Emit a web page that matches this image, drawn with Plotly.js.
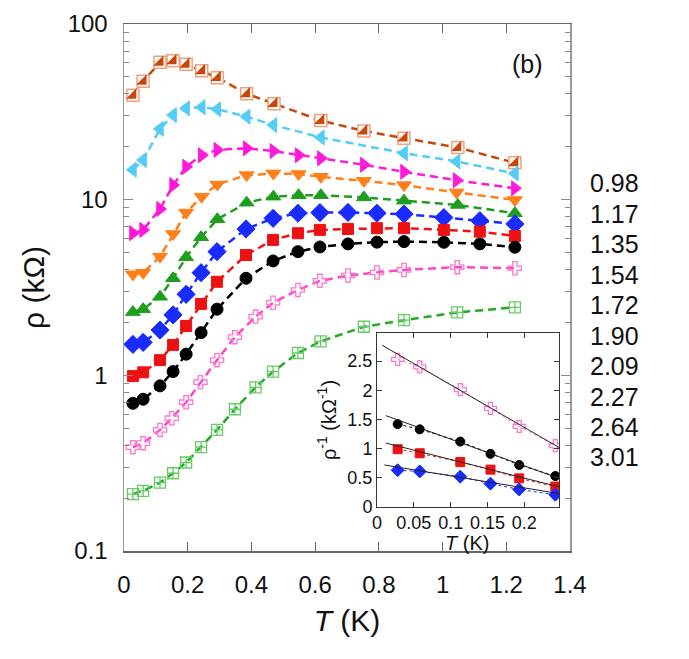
<!DOCTYPE html>
<html>
<head>
<meta charset="utf-8">
<script src="https://cdn.plot.ly/plotly-3.0.1.min.js"></script>
<style>html,body{margin:0;padding:0;background:#fff;}#chart{width:689px;height:659px;}</style>
</head>
<body>
<div id="chart"></div>
<script>
// ---- series labels (right side) ----
const seriesLabels = ['0.98','1.17','1.35','1.54','1.72','1.90','2.09','2.27','2.64','3.01'];

// ---- main panel data: T (K) and rho (kOhm) ----
const T_098 = [0.028,0.06,0.113,0.154,0.195,0.244,0.293,0.385,0.471,0.618,0.753,0.879,1.048,1.227];
const R_098 = [39.3,47.2,60.5,61.8,59.0,54.2,49.5,40.1,35.2,28.2,24.6,22.4,19.8,16.2];

const T_117 = [0.028,0.06,0.113,0.154,0.195,0.244,0.293,0.385,0.469,0.618,0.879,1.044,1.227];
const R_117 = [14.8,16.8,25.3,30.3,33.1,33.6,32.7,29.7,26.6,22.6,18.4,16.5,14.1];

const T_135 = [0.028,0.06,0.113,0.154,0.195,0.244,0.293,0.385,0.469,0.548,0.618,0.753,0.879,1.044,1.227];
const R_135 = [6.44,6.73,8.85,12.1,15.4,17.9,19.2,19.6,18.9,17.9,17.2,15.8,14.4,12.9,11.6];

const T_154 = [0.028,0.06,0.113,0.154,0.195,0.244,0.293,0.385,0.469,0.548,0.618,0.753,0.879,1.044,1.227];
const R_154 = [3.76,3.84,4.74,6.38,8.44,10.4,12.2,13.8,14.1,14.0,13.5,12.8,12.1,11.0,9.96];

const T_172 = [0.028,0.06,0.113,0.154,0.195,0.242,0.293,0.385,0.469,0.548,0.618,0.753,0.879,1.048,1.227];
const R_172 = [2.29,2.38,2.80,3.57,4.70,6.11,7.73,9.61,10.4,10.6,10.6,10.3,9.87,9.33,8.37];

const T_190 = [0.028,0.06,0.113,0.154,0.195,0.242,0.292,0.383,0.468,0.546,0.615,0.703,0.794,0.879,1.004,1.117,1.227];
const R_190 = [1.50,1.54,1.81,2.21,2.89,3.84,5.06,6.81,7.83,8.37,8.44,8.46,8.37,8.28,7.91,7.59,7.27];

const T_209 = [0.028,0.06,0.113,0.154,0.195,0.242,0.292,0.383,0.468,0.546,0.615,0.703,0.794,0.879,1.004,1.117,1.227];
const R_209 = [0.99,1.04,1.22,1.49,1.91,2.55,3.41,4.84,5.90,6.44,6.73,6.81,6.88,6.88,6.73,6.58,6.21];

const T_227 = [0.028,0.06,0.113,0.154,0.195,0.242,0.292,0.383,0.468,0.546,0.615,0.703,0.794,0.879,1.004,1.117,1.227];
const R_227 = [0.693,0.731,0.871,1.05,1.32,1.75,2.38,3.57,4.48,5.06,5.38,5.60,5.73,5.77,5.72,5.60,5.36];

const T_264 = [0.028,0.06,0.113,0.15,0.195,0.24,0.292,0.348,0.413,0.468,0.546,0.615,0.703,0.794,0.879,1.046,1.227];
const R_264 = [0.390,0.411,0.489,0.570,0.703,0.914,1.22,1.65,2.16,2.59,3.06,3.45,3.70,3.85,3.98,4.13,4.07];

const T_301 = [0.028,0.06,0.113,0.154,0.195,0.242,0.292,0.348,0.413,0.468,0.546,0.617,0.753,0.879,1.046,1.227];
const R_301 = [0.211,0.220,0.245,0.277,0.319,0.390,0.489,0.641,0.855,1.05,1.34,1.56,1.89,2.06,2.28,2.44];

// ---- inset data: rho^-1 (kOhm^-1) vs T ----
const insetT = [0.028,0.058,0.113,0.154,0.193,0.242];
const INV_264 = [2.53,2.40,2.01,1.69,1.38,1.05];
const INV_227 = [1.42,1.33,1.12,0.91,0.72,0.53];
const INV_209 = [0.99,0.92,0.77,0.64,0.49,0.35];
const INV_190 = [0.63,0.61,0.52,0.40,0.30,0.21];

// linear fits in inset (end points)
const FIT_264_T = [0.007,0.247], FIT_264_V = [2.77,1.02];
const FIT_227_T = [0.012,0.247], FIT_227_V = [1.565,0.49];
const FIT_209_T = [0.012,0.250], FIT_209_V = [1.095,0.335];
const FIT_190_T = [0.010,0.247], FIT_190_V = [0.72,0.23];

// ---- tick labels ----
const yTickVals = [0.1,1,10,100];
const yTickText = ['0.1','1','10','100'];
const yMinorVals = [0.2,0.3,0.4,0.5,0.6,0.7,0.8,0.9,2,3,4,5,6,7,8,9,20,30,40,50,60,70,80,90];

const FONT = 'Liberation Sans, Arial, Helvetica, sans-serif';
const DASH = '8px,5px';

function mainTrace(x, y, color, symbol, size, mcolor, mline, mlinew) {
  return {
    x: x, y: y, type: 'scatter', mode: 'lines+markers',
    xaxis: 'x', yaxis: 'y',
    line: {color: color, width: 2.5, dash: DASH},
    marker: {symbol: symbol, size: size, color: mcolor || color,
             line: {color: mline || (mcolor || color), width: mlinew == null ? 1 : mlinew}},
    showlegend: false, hoverinfo: 'x+y'
  };
}

const traces = [];
// 0.98 : half-filled squares
traces.push(mainTrace(T_098, R_098, '#C8460A', 'square', 12, '#ffffff', '#F2A07A', 1.5));
traces.push({x: T_098, y: R_098, type: 'scatter', mode: 'markers', xaxis: 'x', yaxis: 'y',
  marker: {symbol: 'triangle-se', size: 11.5, color: '#C8460A', line: {width: 0}}, showlegend: false});
traces.push(mainTrace(T_117, R_117, '#55CCF5', 'triangle-left', 13));
traces.push(mainTrace(T_135, R_135, '#FF1ADA', 'triangle-right', 13));
traces.push(mainTrace(T_154, R_154, '#FF7F1A', 'triangle-down', 13));
traces.push(mainTrace(T_172, R_172, '#1E9E1E', 'triangle-up', 13));
traces.push(mainTrace(T_190, R_190, '#1A2BFF', 'diamond', 14));
traces.push(mainTrace(T_209, R_209, '#EE1111', 'square', 11));
traces.push(mainTrace(T_227, R_227, '#000000', 'circle', 12));
traces.push(mainTrace(T_264, R_264, '#FF44C8', 'cross-open', 11, '#FF77CC', '#FF77CC', 1.3));
traces.push(mainTrace(T_301, R_301, '#22AA22', 'square-cross-open', 11, '#66CC66', '#66CC66', 1.3));

// inset dotted data lines + markers
function insetTrace(y, color, symbol, size, open) {
  return {x: insetT, y: y, type: 'scatter', mode: 'lines+markers', xaxis: 'x2', yaxis: 'y2',
    line: {color: color, width: 1, dash: 'dot'},
    marker: {symbol: symbol, size: size, color: color, line: {color: color, width: open ? 1.3 : 1}},
    showlegend: false};
}
function fitTrace(x, y) {
  return {x: x, y: y, type: 'scatter', mode: 'lines', xaxis: 'x2', yaxis: 'y2',
    line: {color: '#222', width: 1}, showlegend: false, hoverinfo: 'skip'};
}
traces.push(insetTrace(INV_264, '#FF77CC', 'cross-open', 10, true));
traces.push(insetTrace(INV_227, '#000000', 'circle', 9));
traces.push(insetTrace(INV_209, '#EE1111', 'square', 9));
traces.push(insetTrace(INV_190, '#1A2BFF', 'diamond', 10));
traces.push(fitTrace(FIT_264_T, FIT_264_V));
traces.push(fitTrace(FIT_227_T, FIT_227_V));
traces.push(fitTrace(FIT_209_T, FIT_209_V));
traces.push(fitTrace(FIT_190_T, FIT_190_V));

// right-side labels as annotations
const labelY0 = 183, labelStep = 30.5; // pixel layout of the label column
const annotations = seriesLabels.map((t, i) => ({
  text: t, xref: 'paper', yref: 'paper',
  x: (614 - 124) / 446, y: (551 - (labelY0 + i * labelStep)) / 527,
  xanchor: 'center', yanchor: 'middle', showarrow: false,
  font: {family: FONT, size: 25, color: '#111'}
}));
annotations.push({text: '(b)', xref: 'paper', yref: 'paper',
  x: (527 - 124) / 446, y: (551 - 64) / 527, xanchor: 'center', yanchor: 'middle',
  showarrow: false, font: {family: FONT, size: 25, color: '#111'}});
// inset x-axis title
annotations.push({text: '<i>T</i> (K)', xref: 'paper', yref: 'paper',
  x: (467 - 124) / 446, y: (551 - 531) / 527, xanchor: 'center', yanchor: 'top',
  showarrow: false, borderpad: 0, font: {family: FONT, size: 20, color: '#111'}});

const layout = {
  width: 689, height: 659, autosize: false,
  margin: {l: 124, r: 119, t: 24, b: 108, pad: 0},
  paper_bgcolor: '#ffffff', plot_bgcolor: '#ffffff',
  font: {family: FONT, color: '#111'},
  showlegend: false,
  xaxis: {
    range: [0, 1.4], dtick: 0.2, tick0: 0, ticks: 'inside', ticklen: 9, tickcolor: '#666', tickwidth: 1,
    showline: true, linecolor: '#666', linewidth: 1.5, mirror: 'allticks', showgrid: false, zeroline: false,
    tickfont: {size: 24, family: FONT, color: '#111'}, ticklabelstandoff: 12,
    title: {text: '<i>T</i> (K)', font: {size: 30, family: FONT, color: '#111'}, standoff: 12},
    domain: [0, 1]
  },
  yaxis: {
    type: 'log', range: [-1, 2], tickmode: 'array', tickvals: yTickVals, ticktext: yTickText,
    ticks: 'inside', ticklen: 9, tickcolor: '#888', tickwidth: 1,
    minor: {tickmode: 'array', tickvals: yMinorVals, ticks: 'inside', ticklen: 5, tickcolor: '#888', showgrid: false},
    showline: true, linecolor: '#999', linewidth: 1.5, mirror: 'allticks', showgrid: false, zeroline: false,
    tickfont: {size: 24, family: FONT, color: '#111'}, ticklabelstandoff: 10,
    title: {text: 'ρ (kΩ)', font: {size: 30, family: FONT, color: '#111'}, standoff: 14},
    domain: [0, 1]
  },
  xaxis2: {
    anchor: 'y2', domain: [(377 - 124) / 446, (559 - 124) / 446],
    range: [0, 0.247], dtick: 0.05, tick0: 0, ticks: 'inside', ticklen: 5, tickcolor: '#333',
    showline: true, linecolor: '#333', linewidth: 1, mirror: 'ticks', showgrid: false, zeroline: false,
    tickfont: {size: 18, family: FONT, color: '#111'}, ticklabelstandoff: -1
  },
  yaxis2: {
    anchor: 'x2', domain: [(551 - 507) / 527, (551 - 333) / 527],
    range: [0, 2.98], dtick: 0.5, tick0: 0, ticks: 'inside', ticklen: 5, tickcolor: '#333',
    showline: true, linecolor: '#333', linewidth: 1, mirror: 'ticks', showgrid: false, zeroline: false,
    tickfont: {size: 18, family: FONT, color: '#111'},
    title: {text: 'ρ<sup>-1</sup> (kΩ<sup>-1</sup>)', font: {size: 20, family: FONT, color: '#111'}, standoff: 5}
  },
  annotations: annotations
};

Plotly.newPlot('chart', traces, layout, {displayModeBar: false, staticPlot: true});
</script>
</body>
</html>
